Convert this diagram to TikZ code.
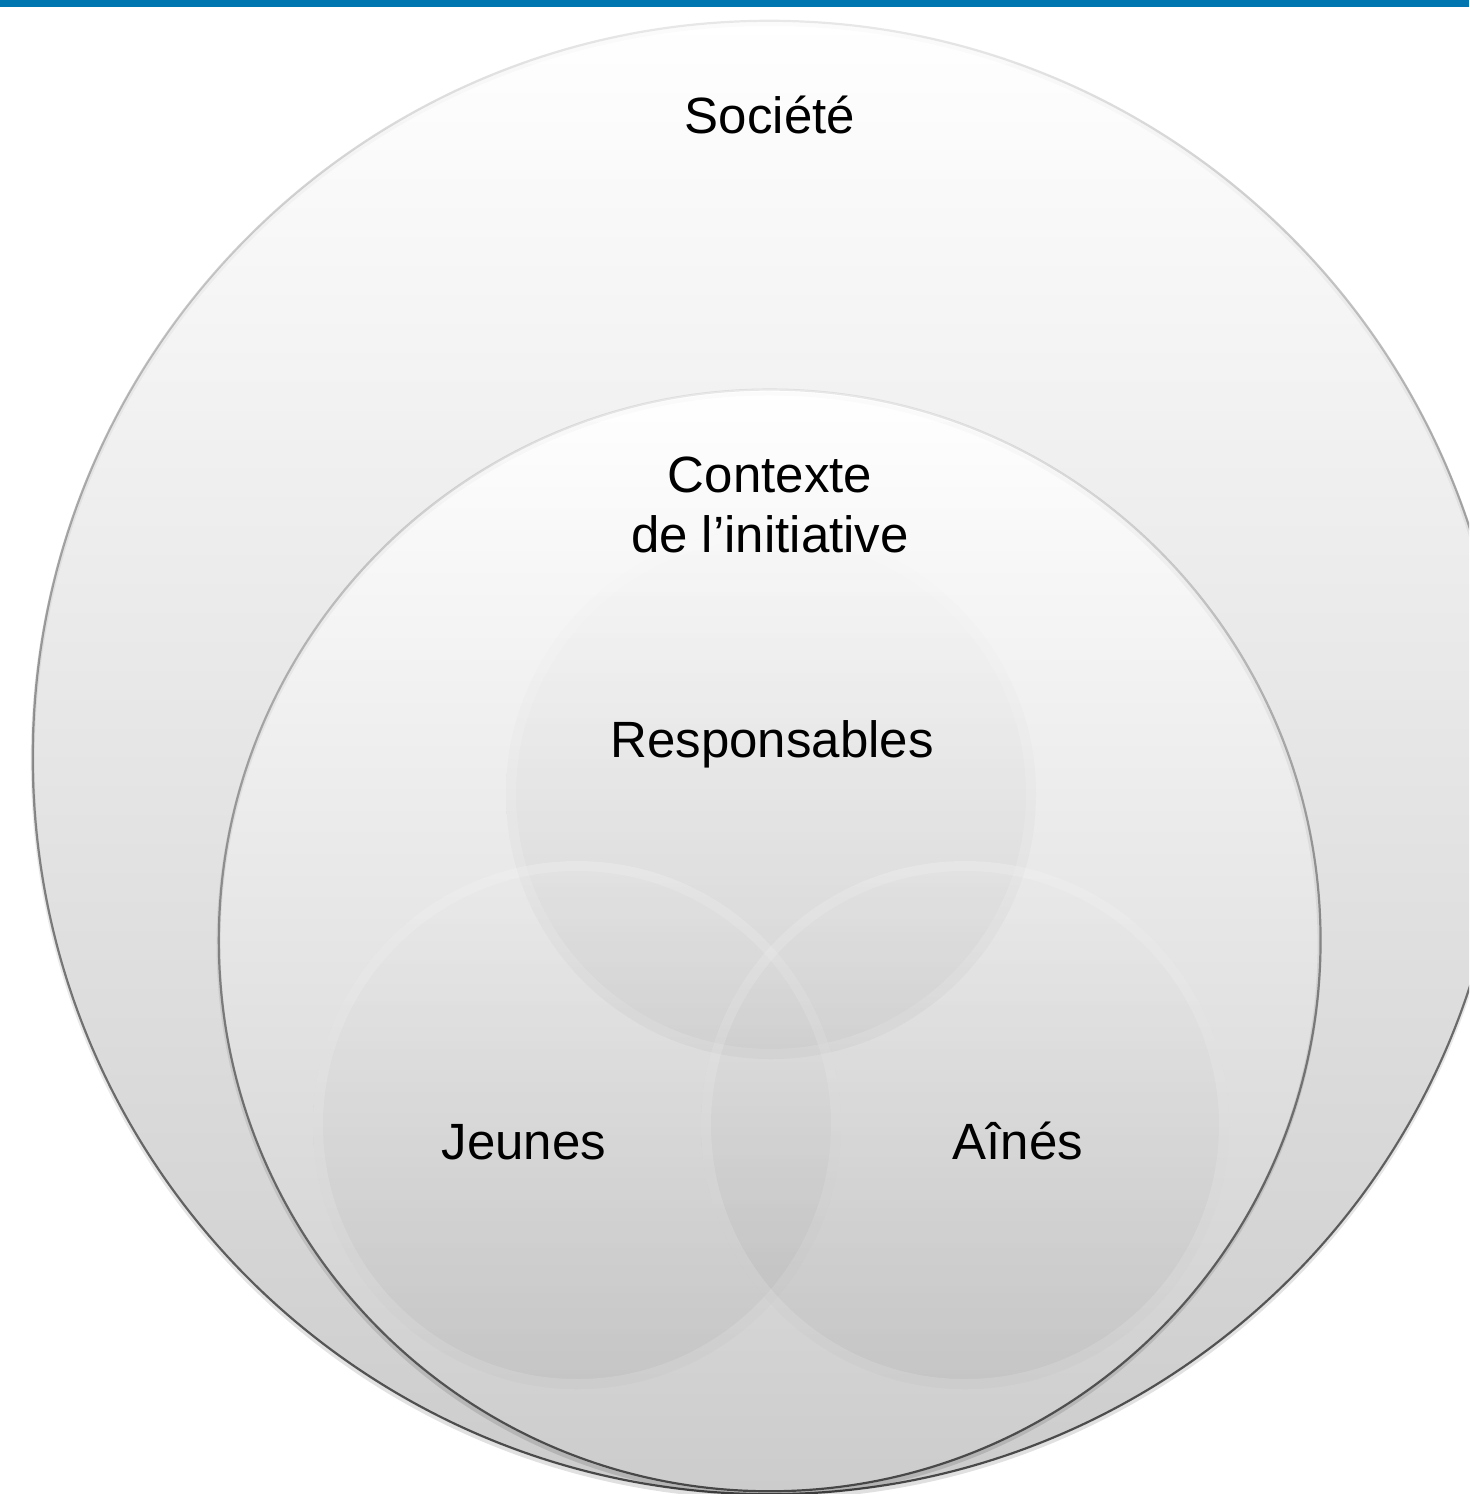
\documentclass[tikz,border=0pt]{standalone}
\usepackage{fontspec}
\setmainfont{Liberation Sans}
\usetikzlibrary{fadings}
\definecolor{barblue}{RGB}{0,118,176}
\definecolor{edgedark}{RGB}{70,70,70}
\tikzfading[name=fadeup, top color=transparent!88, bottom color=transparent!0]
\begin{document}
\begin{tikzpicture}[x=0.5pt,y=-0.5pt,
  lbl/.style={font=\fontsize{25.5pt}{30pt}\selectfont, text=black, inner sep=0pt, align=center, anchor=base},
  ringfill/.style={top color=white, middle color=black!6, bottom color=black!20},
  ringedge/.style={draw=edgedark, line width=1.1pt, path fading=fadeup},
  ringshadow/.style={draw=black, line width=2pt, opacity=0.12, path fading=fadeup},
  venn/.style={top color=black!4, bottom color=black!55, opacity=0.12},
  vennrim/.style={draw=white, line width=5pt, opacity=0.14}]
\useasboundingbox (0,0) rectangle (1469,1494);
\fill[white] (0,0) rectangle (1469,1494);
\begin{scope}
\clip (0,0) rectangle (1469,1494);
% Societe
\shade[ringfill] (770,757) circle (737);
\draw[ringshadow] (770,760) circle (737);
\draw[ringedge] (770,757) circle (737);
% Contexte
\shade[ringfill] (770,940) circle (551);
\draw[ringshadow] (770,943) circle (551);
\draw[ringedge] (770,940) circle (551);
% Venn circles
\shade[venn] (771,794) circle (265);
\draw[vennrim] (771,794) circle (260);
\shade[venn] (577,1125) circle (264);
\draw[vennrim] (577,1125) circle (259);
\shade[venn] (965,1125) circle (264);
\draw[vennrim] (965,1125) circle (259);
\end{scope}
\fill[barblue] (0,0) rectangle (1469,7);
% labels
\node[lbl] (societe) at (770,133) {Société};
\node[lbl] (contexte) at (770,552) {Contexte\\de l’initiative};
\node[lbl] (resp) at (772,757) {Responsables};
\node[lbl] (jeunes) at (524,1159) {Jeunes};
\node[lbl] (aines) at (1018,1159) {Aînés};
\end{tikzpicture}
\end{document}
